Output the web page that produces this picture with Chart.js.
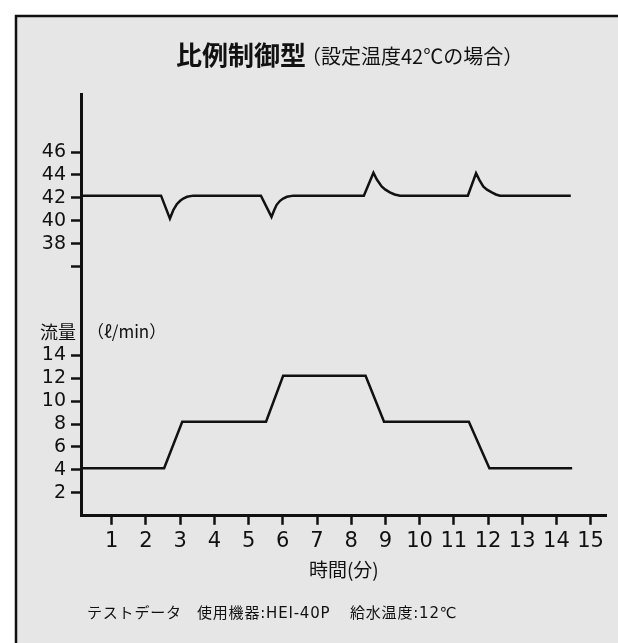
<!DOCTYPE html>
<html><head><meta charset="utf-8">
<script src="https://cdn.jsdelivr.net/npm/chart.js@4"></script>
<style>html,body{margin:0;padding:0;background:#fff;overflow:hidden}#wrap{position:relative;width:618px;height:643px}</style>
</head><body><div id="wrap"><canvas id="c"></canvas></div>
<script>
// ---- data ----
const timeTicks = [1,2,3,4,5,6,7,8,9,10,11,12,13,14,15];
const flowTicks = [2,4,6,8,10,12,14];
const tempTicks = [36,38,40,42,44,46];
const tempTickLabels = ['','38','40','42','44','46'];

const flowTime   = [0.1, 2.53, 3.06, 5.51, 6.01, 8.42, 8.96, 11.44, 12.04, 14.46];
const flowValues = [4.15, 4.15, 8.2, 8.2, 12.2, 12.2, 8.2, 8.2, 4.15, 4.15];

const tempTime = [0.1, 2.44, 2.70, 2.80, 2.90, 3.00, 3.09, 3.20, 3.38,
                  5.36, 5.67, 5.75, 5.82, 5.92, 6.01, 6.12, 6.31,
                  8.37, 8.65, 8.75, 8.89, 9.00, 9.13, 9.27, 9.43,
                  11.41, 11.65, 11.75, 11.86, 11.97, 12.11, 12.23, 12.35,
                  14.42];
const tempValues = [42.2, 42.2, 40.2, 40.95, 41.45, 41.75, 41.95, 42.1, 42.2,
                    42.2, 40.35, 40.95, 41.4, 41.75, 41.95, 42.1, 42.2,
                    42.2, 44.2, 43.6, 43.0, 42.72, 42.48, 42.3, 42.2,
                    42.2, 44.15, 43.55, 43.0, 42.72, 42.48, 42.3, 42.2,
                    42.2];

const titleMain = '比例制御型';
const titleSub = '（設定温度42℃の場合）';
const xTitle = '時間(分)';
const flowLabel = '流量';
const flowUnit = '（ℓ/min）';
const notes = ['テストデータ', '使用機器:HEI-40P', '給水温度:12℃'];

// axis ranges
const X_MIN = 0.1, X_MAX = 15.47;
const FLOW_MIN = 0, FLOW_MAX = 36.77;
const TEMP_MIN = 14.29, TEMP_MAX = 51.06;

const INK = '#111';
const NUM_FONT = "'DejaVu Sans', 'Noto Sans CJK JP', sans-serif";
const JP_FONT = "'Noto Sans CJK JP', sans-serif";

const framePlugin = {
  id: 'frame',
  beforeDraw(chart) {
    const ctx = chart.ctx;
    ctx.save();
    ctx.fillStyle = '#fff';
    ctx.fillRect(0, 0, chart.width, chart.height);
    ctx.fillStyle = '#e6e6e6';
    ctx.fillRect(16, 16, chart.width, chart.height);
    ctx.strokeStyle = '#111';
    ctx.lineWidth = 2.5;
    ctx.beginPath();
    ctx.moveTo(16, chart.height + 5);
    ctx.lineTo(16, 16);
    ctx.lineTo(chart.width + 5, 16);
    ctx.stroke();
    ctx.restore();
  },
  afterDraw(chart) {
    const ctx = chart.ctx;
    ctx.save();
    ctx.fillStyle = INK;
    ctx.textBaseline = 'middle';
    ctx.textAlign = 'left';
    ctx.font = 'bold 26px ' + JP_FONT;
    ctx.fillText(titleMain, 176, 55);
    const w = ctx.measureText(titleMain).width;
    ctx.font = '20px ' + JP_FONT;
    ctx.fillText(titleSub, 176 + w - 5, 56);

    ctx.font = '18px ' + JP_FONT;
    ctx.textAlign = 'right';
    ctx.fillText(flowLabel, 76, 332);
    ctx.textAlign = 'left';
    ctx.font = '17px ' + JP_FONT;
    ctx.fillText(flowUnit, 87, 332);

    ctx.font = '15px ' + NUM_FONT;
    if ('letterSpacing' in ctx) ctx.letterSpacing = '0.8px';
    const nx = [87, 197, 350];
    notes.forEach((t, i) => ctx.fillText(t, nx[i], 614));
    ctx.restore();
  }
};

new Chart(document.getElementById('c'), {
  type: 'line',
  data: {
    datasets: [
      {
        label: 'temp',
        data: tempTime.map((t, i) => ({x: t, y: tempValues[i]})),
        yAxisID: 'yT',
        borderColor: INK, borderWidth: 2.5, pointRadius: 0, tension: 0, fill: false
      },
      {
        label: 'flow',
        data: flowTime.map((t, i) => ({x: t, y: flowValues[i]})),
        yAxisID: 'y',
        borderColor: INK, borderWidth: 2.5, pointRadius: 0, tension: 0, fill: false
      }
    ]
  },
  options: {
    responsive: true,
    maintainAspectRatio: false,
    animation: false,
    layout: {padding: {left: 0, right: 11.3, top: 94, bottom: 0}},
    plugins: {legend: {display: false}, tooltip: {enabled: false}, title: {display: false}},
    scales: {
      x: {
        type: 'linear', min: X_MIN, max: X_MAX,
        afterBuildTicks(scale) { scale.ticks = timeTicks.map(v => ({value: v})); },
        afterFit(scale) { scale.height = 127.2; },
        ticks: {
          autoSkip: false, maxRotation: 0, color: INK, padding: 4,
          font: {family: NUM_FONT, size: 21},
          callback: (v, i) => String(timeTicks[i])
        },
        grid: {drawOnChartArea: false, drawTicks: true, tickLength: 9, tickColor: INK, tickWidth: 2.5, color: INK},
        border: {display: true, color: INK, width: 3},
        title: {display: true, text: xTitle, color: INK, font: {family: JP_FONT, size: 19}, padding: {top: 0, bottom: 62}}
      },
      y: {
        type: 'linear', position: 'left', min: FLOW_MIN, max: FLOW_MAX,
        afterBuildTicks(scale) {
          const t = flowTicks.map(v => ({value: v}));
          tempTicks.forEach(v => t.push({value: (v - TEMP_MIN) / (TEMP_MAX - TEMP_MIN) * (FLOW_MAX - FLOW_MIN) + FLOW_MIN}));
          scale.ticks = t;
        },
        afterFit(scale) { scale.width = 81; },
        ticks: {
          autoSkip: false, color: INK, padding: 5,
          font: {family: NUM_FONT, size: 19},
          callback: (v, i) => i < flowTicks.length ? String(flowTicks[i]) : tempTickLabels[i - flowTicks.length]
        },
        grid: {drawOnChartArea: false, drawTicks: true, tickLength: 10, tickColor: INK, tickWidth: 2.5, color: INK},
        border: {display: true, color: INK, width: 3}
      },
      yT: {
        type: 'linear', display: false, min: TEMP_MIN, max: TEMP_MAX
      }
    }
  },
  plugins: [framePlugin]
});
</script>
</body></html>
